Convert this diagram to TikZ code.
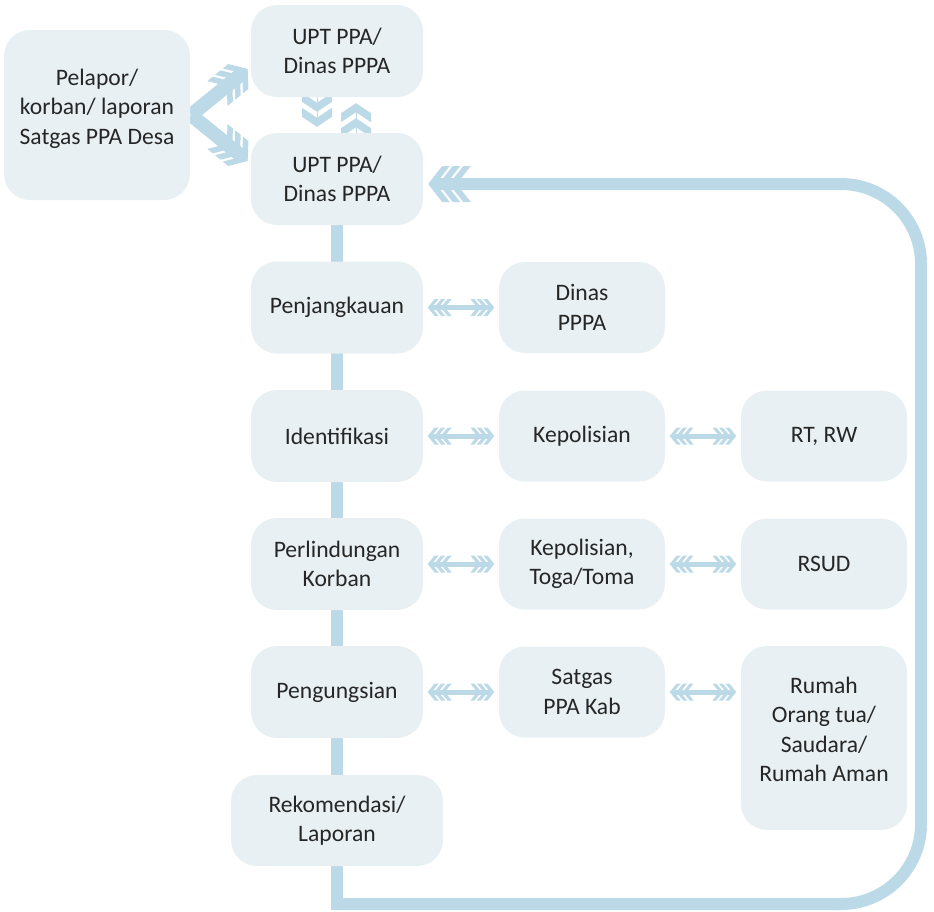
\documentclass[tikz,border=0pt]{standalone}
\usepackage{fontspec}
\setmainfont{Carlito}
\usetikzlibrary{arrows.meta,backgrounds}
\definecolor{boxfill}{HTML}{E8F0F3}
\definecolor{flow}{HTML}{BCD9E8}
\definecolor{ink}{HTML}{262626}
% filled chevron with parallel arms; inset = thickness of the arms
\pgfdeclarearrow{
  name = Chevron,
  parameters = {\the\pgfarrowlength,\the\pgfarrowwidth,\the\pgfarrowinset},
  setup code = {
    \pgfarrowssettipend{0pt}
    \pgfarrowssetbackend{-\pgfarrowinset}
    \pgfarrowssetlineend{-\pgfarrowinset}
    \pgfarrowssavethe\pgfarrowlength
    \pgfarrowssavethe\pgfarrowwidth
    \pgfarrowssavethe\pgfarrowinset
  },
  drawing code = {
    \pgfpathmoveto{\pgfpointorigin}
    \pgfpathlineto{\pgfpoint{-\pgfarrowlength}{.5\pgfarrowwidth}}
    \pgfpathlineto{\pgfpoint{-\pgfarrowlength-\pgfarrowinset}{.5\pgfarrowwidth}}
    \pgfpathlineto{\pgfpoint{-\pgfarrowinset}{0pt}}
    \pgfpathlineto{\pgfpoint{-\pgfarrowlength-\pgfarrowinset}{-.5\pgfarrowwidth}}
    \pgfpathlineto{\pgfpoint{-\pgfarrowlength}{-.5\pgfarrowwidth}}
    \pgfpathclose
    \pgfusepathqfill
  },
  defaults = {length = 7pt, width = 17pt, inset = 4pt}
}
\tikzset{
  bigtri/.tip={Chevron[length=14pt,width=36pt,inset=7.5pt,sep=3pt]
               Chevron[length=14pt,width=36pt,inset=7.5pt,sep=3pt]
               Chevron[length=14pt,width=36pt,inset=7.5pt,sep=3pt]},
  diagtri/.tip={Chevron[length=12pt,width=32pt,inset=7pt,sep=3pt]
                Chevron[length=12pt,width=32pt,inset=7pt,sep=3pt]
                Chevron[length=12pt,width=32pt,inset=7pt,sep=3pt]},
  vduo/.tip={Chevron[length=10pt,width=30pt,inset=9pt,sep=6pt]
             Chevron[length=10pt,width=30pt,inset=9pt,sep=6pt]},
  smalltri/.tip={Chevron[length=7pt,width=17pt,inset=4pt,sep=2.5pt]
                 Chevron[length=7pt,width=17pt,inset=4pt,sep=2.5pt]
                 Chevron[length=7pt,width=17pt,inset=4pt,sep=2.5pt]},
}
\begin{document}
\begin{tikzpicture}[x=1pt,y=-1pt,
  box/.style={fill=boxfill, rounded corners=26pt, align=center, text=ink,
    font=\fontsize{23.6}{29.5}\selectfont, inner sep=0pt},
  mainbox/.style={box, minimum width=172pt, minimum height=92pt},
  sidebox/.style={box, minimum width=166pt, minimum height=91pt},
  spine/.style={draw=flow, line width=12pt},
  link/.style={draw=flow, line width=5pt, {smalltri}-{smalltri},
    shorten <=2pt, shorten >=2pt},
]
\useasboundingbox (0,0) rectangle (934,911);

% boxes
\node[box, minimum width=186pt, minimum height=170pt] (src) at (97,115)
  {\raisebox{6pt}[\height][\depth]{\begin{tabular}{@{}c@{}}Pelapor/\\korban/ laporan\\Satgas PPA Desa\end{tabular}}};
\node[mainbox] (upt1) at (337,51) {UPT PPA/\\Dinas PPPA};
\node[mainbox] (upt2) at (337,179) {UPT PPA/\\Dinas PPPA};
\node[mainbox] (penj) at (337,307.5) {Penjangkauan};
\node[sidebox] (dinas) at (582,307.5) {Dinas\\PPPA};
\node[mainbox] (ident) at (337,436) {Identifikasi};
\node[sidebox] (polisi) at (582,436) {Kepolisian};
\node[sidebox] (rtrw) at (824,436) {RT, RW};
\node[mainbox] (lindung) at (337,564) {Perlindungan\\Korban};
\node[sidebox] (toga) at (582,564) {Kepolisian,\\Toga/Toma};
\node[sidebox] (rsud) at (824,564) {RSUD};
\node[mainbox] (ungsi) at (337,692) {Pengungsian};
\node[sidebox] (satgas) at (582,692) {Satgas\\PPA Kab};
\node[box, minimum width=166pt, minimum height=184pt] (rumah) at (824,738)
  {\raisebox{6.5pt}[\height][\depth]{\begin{tabular}{@{}c@{}}Rumah\\Orang tua/\\Saudara/\\Rumah Aman\end{tabular}}};
\node[box, minimum width=212pt, minimum height=91pt] (rekom) at (337,820.5) {Rekomendasi/\\Laporan};

\coordinate (split) at (191,115);
\coordinate (bend) at (336.5,904);
\coordinate (rb) at (921,904);
\coordinate (rt) at (921,184);

\begin{pgfonlayer}{background}
  % main flow line and return loop
  \draw[spine, line cap=rect] (upt2.south -| bend) -- (bend);
  \draw[spine, rounded corners=80pt, -{bigtri}]
    (bend) -- (rb) -- (rt) -- ([xshift=2pt]upt2.east |- rt);
  % intake arrows
  \draw[draw=flow, line width=14pt, -{diagtri}] (split) -- (250,67);
  \draw[draw=flow, line width=14pt, -{diagtri}] (split) -- (250,163);
  % exchange between the two UPT boxes
  \draw[draw=flow, line width=0.1pt, -{vduo}] ([xshift=-20pt]upt1.south) -- ([xshift=-20pt]upt2.north);
  \draw[draw=flow, line width=0.1pt, -{vduo}] ([xshift=19pt]upt2.north) -- ([xshift=19pt]upt1.south);
  % partner links
  \draw[link] (penj) -- (dinas);
  \draw[link] (ident) -- (polisi);
  \draw[link] (polisi) -- (rtrw);
  \draw[link] (lindung) -- (toga);
  \draw[link] (toga) -- (rsud);
  \draw[link] (ungsi) -- (satgas);
  \draw[link] (satgas) -- (rumah.west |- satgas);
\end{pgfonlayer}
\end{tikzpicture}
\end{document}
